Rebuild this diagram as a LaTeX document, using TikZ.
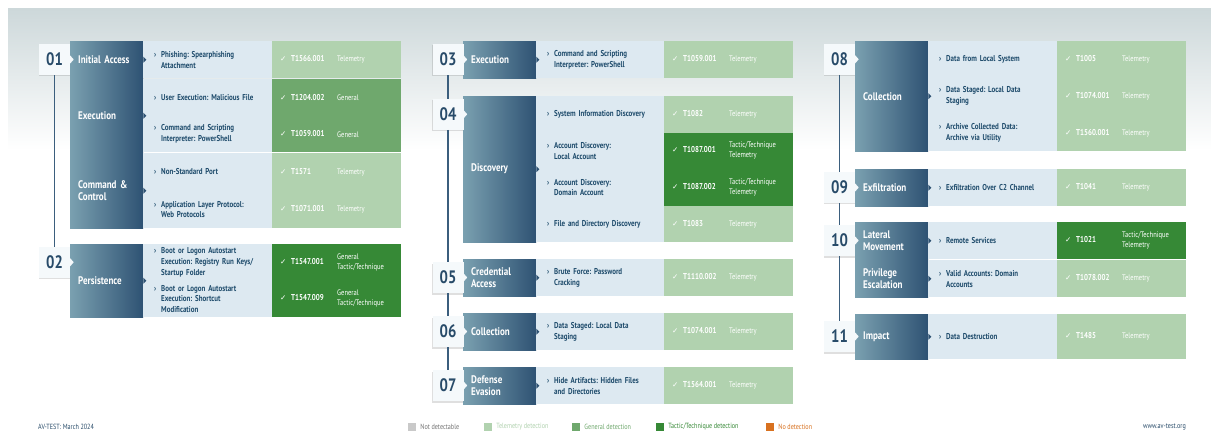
\documentclass[tikz,border=0pt]{standalone}
\usepackage{fontspec}
\setmainfont{PT Sans}[FakeStretch=0.82]
\newfontfamily\symfont{DejaVu Sans}
\usepackage{xcolor}
\usetikzlibrary{positioning,shadows}
\frenchspacing

\definecolor{bgtop}{HTML}{CDD8DA}
\definecolor{tacL}{HTML}{7AA0B0}
\definecolor{tacR}{HTML}{2E5273}
\definecolor{techbg}{HTML}{DDE9F1}
\definecolor{teleg}{HTML}{B1D2AF}
\definecolor{geng}{HTML}{6FA86D}
\definecolor{tacg}{HTML}{368936}
\definecolor{techtxt}{HTML}{1F4C6C}
\definecolor{numtxt}{HTML}{284B69}
\definecolor{numbg}{HTML}{F5F9FB}
\definecolor{linec}{HTML}{3B5E7D}
\definecolor{nodet}{HTML}{C9C9C9}
\definecolor{orng}{HTML}{D8711F}

\newcommand{\chk}{{\symfont\fontsize{7.5}{7.5}\selectfont ✓}}
\newcommand{\techitem}[1]{\makebox[7pt][l]{›}\parbox[t]{100pt}{\raggedright #1}}
\newcommand{\hit}[2]{\makebox[11pt][l]{\chk}\makebox[46pt][l]{\bfseries #1}\parbox[c]{56pt}{\raggedright\mdseries\fontsize{8}{10}\selectfont #2}}

\begin{document}
\begin{tikzpicture}[x=1pt,y=-1pt,
  numbox/.style={fill=numbg, minimum width=31pt, minimum height=31pt, inner sep=0pt,
    text=numtxt, font=\fontsize{18}{18}\selectfont\bfseries,
    drop shadow={shadow xshift=-0.5pt, shadow yshift=-1.5pt, opacity=0.25}},
  tactic/.style={anchor=north west, left color=tacL, right color=tacR, text=white,
    font=\fontsize{11}{12.7}\selectfont\bfseries, align=left, text width=57pt,
    inner xsep=8pt, inner ysep=0pt, minimum width=73pt},
  tech/.style={anchor=north west, fill=techbg, text=techtxt,
    font=\fontsize{8.5}{10.7}\selectfont\bfseries, text width=107pt,
    inner xsep=11pt, inner ysep=0pt, minimum width=129pt},
  res/.style={anchor=north west, fill=#1, text=white, font=\fontsize{8.5}{10}\selectfont,
    text width=113pt, inner xsep=8pt, inner ysep=0pt, minimum width=129pt},
  timeline/.style={draw=linec, line width=1.8pt},
  legsq/.style={minimum size=8pt, inner sep=0pt},
  foot/.style={font=\fontsize{7.5}{8}\selectfont, inner sep=0pt}]

  % background
  \useasboundingbox (0,0) rectangle (1211,433);
  \fill[white] (0,0) rectangle (1211,433);
  \shade[top color=bgtop, bottom color=white] (8,9) rectangle (1211,150);

  % column 1
  \node[tactic, minimum height=37pt] (tIA) at (70,41) {Initial Access};
  \node[tech, minimum height=37pt] (kIA) at (143,41) {\techitem{Phishing: Spearphishing\\Attachment}};
  \node[res=teleg, minimum height=37pt] (rIA) at (272,41) {\hit{T1566.001}{Telemetry}};

  \node[tactic, minimum height=73pt] (tEX) at (70,79) {Execution};
  \node[tech, minimum height=36.5pt] (kEX1) at (143,79) {\techitem{User Execution: Malicious File}};
  \node[res=geng, minimum height=36.5pt] (rEX1) at (272,79) {\hit{T1204.002}{General}};
  \node[tech, minimum height=36.5pt] (kEX2) at (143,115.5) {\techitem{Command and Scripting\\Interpreter: PowerShell}};
  \node[res=geng, minimum height=36.5pt] (rEX2) at (272,115.5) {\hit{T1059.001}{General}};

  \node[tactic, minimum height=75pt] (tCC) at (70,153) {Command \&\\Control};
  \node[tech, minimum height=37.5pt] (kCC1) at (143,153) {\techitem{Non-Standard Port}};
  \node[res=teleg, minimum height=37.5pt] (rCC1) at (272,153) {\hit{T1571}{Telemetry}};
  \node[tech, minimum height=37.5pt] (kCC2) at (143,190.5) {\techitem{Application Layer Protocol:\\Web Protocols}};
  \node[res=teleg, minimum height=37.5pt] (rCC2) at (272,190.5) {\hit{T1071.001}{Telemetry}};

  \node[tactic, minimum height=73pt] (tPE) at (70,244) {Persistence};
  \node[tech, minimum height=36.5pt] (kPE1) at (143,244) {\techitem{Boot or Logon Autostart\\Execution: Registry Run Keys/\\Startup Folder}};
  \node[res=tacg, minimum height=36.5pt] (rPE1) at (272,244) {\hit{T1547.001}{General\\Tactic/Technique}};
  \node[tech, minimum height=36.5pt] (kPE2) at (143,280.5) {\techitem{Boot or Logon Autostart\\Execution: Shortcut\\Modification}};
  \node[res=tacg, minimum height=36.5pt] (rPE2) at (272,280.5) {\hit{T1547.009}{General\\Tactic/Technique}};

  \node[numbox] (n01) at (54.5,59.5) {01};
  \node[numbox] (n02) at (54.5,262.25) {02};

  % column 2
  \node[tactic, minimum height=37pt] (tEX3) at (463,41) {Execution};
  \node[tech, minimum height=37pt] (kEX3) at (536,41) {\techitem{Command and Scripting\\Interpreter: PowerShell}};
  \node[res=teleg, minimum height=37pt] (rEX3) at (664,41) {\hit{T1059.001}{Telemetry}};

  \node[tactic, minimum height=146pt] (tDI) at (463,96) {Discovery};
  \node[tech, minimum height=36.5pt] (kDI1) at (536,96) {\techitem{System Information Discovery}};
  \node[res=teleg, minimum height=36.5pt] (rDI1) at (664,96) {\hit{T1082}{Telemetry}};
  \node[tech, minimum height=36.5pt] (kDI2) at (536,132.5) {\techitem{Account Discovery:\\Local Account}};
  \node[res=tacg, minimum height=36.5pt] (rDI2) at (664,132.5) {\hit{T1087.001}{Tactic/Technique\\Telemetry}};
  \node[tech, minimum height=36.5pt] (kDI3) at (536,169) {\techitem{Account Discovery:\\Domain Account}};
  \node[res=tacg, minimum height=36.5pt] (rDI3) at (664,169) {\hit{T1087.002}{Tactic/Technique\\Telemetry}};
  \node[tech, minimum height=36.5pt] (kDI4) at (536,205.5) {\techitem{File and Directory Discovery}};
  \node[res=teleg, minimum height=36.5pt] (rDI4) at (664,205.5) {\hit{T1083}{Telemetry}};

  \node[tactic, minimum height=37pt] (tCA) at (463,259) {Credential\\Access};
  \node[tech, minimum height=37pt] (kCA) at (536,259) {\techitem{Brute Force: Password\\Cracking}};
  \node[res=teleg, minimum height=37pt] (rCA) at (664,259) {\hit{T1110.002}{Telemetry}};

  \node[tactic, minimum height=37pt] (tCO6) at (463,313) {Collection};
  \node[tech, minimum height=37pt] (kCO6) at (536,313) {\techitem{Data Staged: Local Data\\Staging}};
  \node[res=teleg, minimum height=37pt] (rCO6) at (664,313) {\hit{T1074.001}{Telemetry}};

  \node[tactic, minimum height=37pt] (tDE) at (463,367) {Defense\\Evasion};
  \node[tech, minimum height=37pt] (kDE) at (536,367) {\techitem{Hide Artifacts: Hidden Files\\and Directories}};
  \node[res=teleg, minimum height=37pt] (rDE) at (664,367) {\hit{T1564.001}{Telemetry}};

  \node[numbox] (n03) at (448,59.5) {03};
  \node[numbox] (n04) at (448,114.25) {04};
  \node[numbox] (n05) at (448,277.5) {05};
  \node[numbox] (n06) at (448,331.5) {06};
  \node[numbox] (n07) at (448,385.5) {07};

  % column 3
  \node[tactic, minimum height=110pt] (tCO8) at (855,41) {Collection};
  \node[tech, minimum height=36.67pt] (kCO1) at (928,41) {\techitem{Data from Local System}};
  \node[res=teleg, minimum height=36.67pt] (rCO1) at (1057,41) {\hit{T1005}{Telemetry}};
  \node[tech, minimum height=36.67pt] (kCO2) at (928,77.67) {\techitem{Data Staged: Local Data\\Staging}};
  \node[res=teleg, minimum height=36.67pt] (rCO2) at (1057,77.67) {\hit{T1074.001}{Telemetry}};
  \node[tech, minimum height=36.67pt] (kCO3) at (928,114.33) {\techitem{Archive Collected Data:\\Archive via Utility}};
  \node[res=teleg, minimum height=36.67pt] (rCO3) at (1057,114.33) {\hit{T1560.001}{Telemetry}};

  \node[tactic, minimum height=37pt] (tXF) at (855,169) {Exfiltration};
  \node[tech, minimum height=37pt] (kXF) at (928,169) {\techitem{Exfiltration Over C2 Channel}};
  \node[res=teleg, minimum height=37pt] (rXF) at (1057,169) {\hit{T1041}{Telemetry}};

  \node[tactic, minimum height=37pt] (tLM) at (855,222) {Lateral\\Movement};
  \node[tech, minimum height=37pt] (kLM) at (928,222) {\techitem{Remote Services}};
  \node[res=tacg, minimum height=37pt] (rLM) at (1057,222) {\hit{T1021}{Tactic/Technique\\Telemetry}};

  \node[tactic, minimum height=37pt] (tPR) at (855,260) {Privilege\\Escalation};
  \node[tech, minimum height=37pt] (kPR) at (928,260) {\techitem{Valid Accounts: Domain\\Accounts}};
  \node[res=teleg, minimum height=37pt] (rPR) at (1057,260) {\hit{T1078.002}{Telemetry}};

  \node[tactic, minimum height=45pt] (tIM) at (855,314) {Impact};
  \node[tech, minimum height=45pt] (kIM) at (928,314) {\techitem{Data Destruction}};
  \node[res=teleg, minimum height=45pt] (rIM) at (1057,314) {\hit{T1485}{Telemetry}};

  \node[numbox] (n08) at (839.5,59.3) {08};
  \node[numbox] (n09) at (839.5,187.5) {09};
  \node[numbox] (n10) at (839.5,240.5) {10};
  \node[numbox] (n11) at (839.5,336.5) {11};

  % timelines
  \draw[timeline] (n01) -- (n02);
  \draw[timeline] (n03) -- (n04);
  \draw[timeline] (n04) -- (n05);
  \draw[timeline] (n05) -- (n06);
  \draw[timeline] (n06) -- (n07);
  \draw[timeline] (n08) -- (n09);
  \draw[timeline] (n09) -- (n10);
  \draw[timeline] (n10) -- (n11);

  % pointers
  \foreach \n in {n01,n02,n03,n04,n05,n06,n07,n08,n09,n10,n11}
    \fill[numbg] ([yshift=4pt]\n.east) -- ([xshift=3.5pt]\n.east) -- ([yshift=-4pt]\n.east) -- cycle;
  \foreach \t in {tIA,tEX,tCC,tPE,tEX3,tDI,tCA,tCO6,tDE,tCO8,tXF,tLM,tPR,tIM}
    \fill[tacR] ([yshift=3pt]\t.east) -- ([xshift=3pt]\t.east) -- ([yshift=-3pt]\t.east) -- cycle;

  % footer
  \node[foot, anchor=west, text=numtxt] (src) at (38,427) {AV-TEST: March 2024};
  \node[legsq, fill=nodet] (q1) at (412,427) {};
  \node[foot, right=4pt of q1, text=black!55] (l1) {Not detectable};
  \node[legsq, fill=teleg] (q2) at (488,427) {};
  \node[foot, right=4pt of q2, text=teleg] (l2) {Telemetry detection};
  \node[legsq, fill=geng] (q3) at (576,427) {};
  \node[foot, right=4pt of q3, text=geng] (l3) {General detection};
  \node[legsq, fill=tacg] (q4) at (660,427) {};
  \node[foot, right=4pt of q4, text=tacg] (l4) {Tactic/Technique detection};
  \node[legsq, fill=orng] (q5) at (770,427) {};
  \node[foot, right=4pt of q5, text=orng] (l5) {No detection};
  \node[foot, anchor=east, text=numtxt] (web) at (1186,427) {www.av-test.org};
\end{tikzpicture}
\end{document}
